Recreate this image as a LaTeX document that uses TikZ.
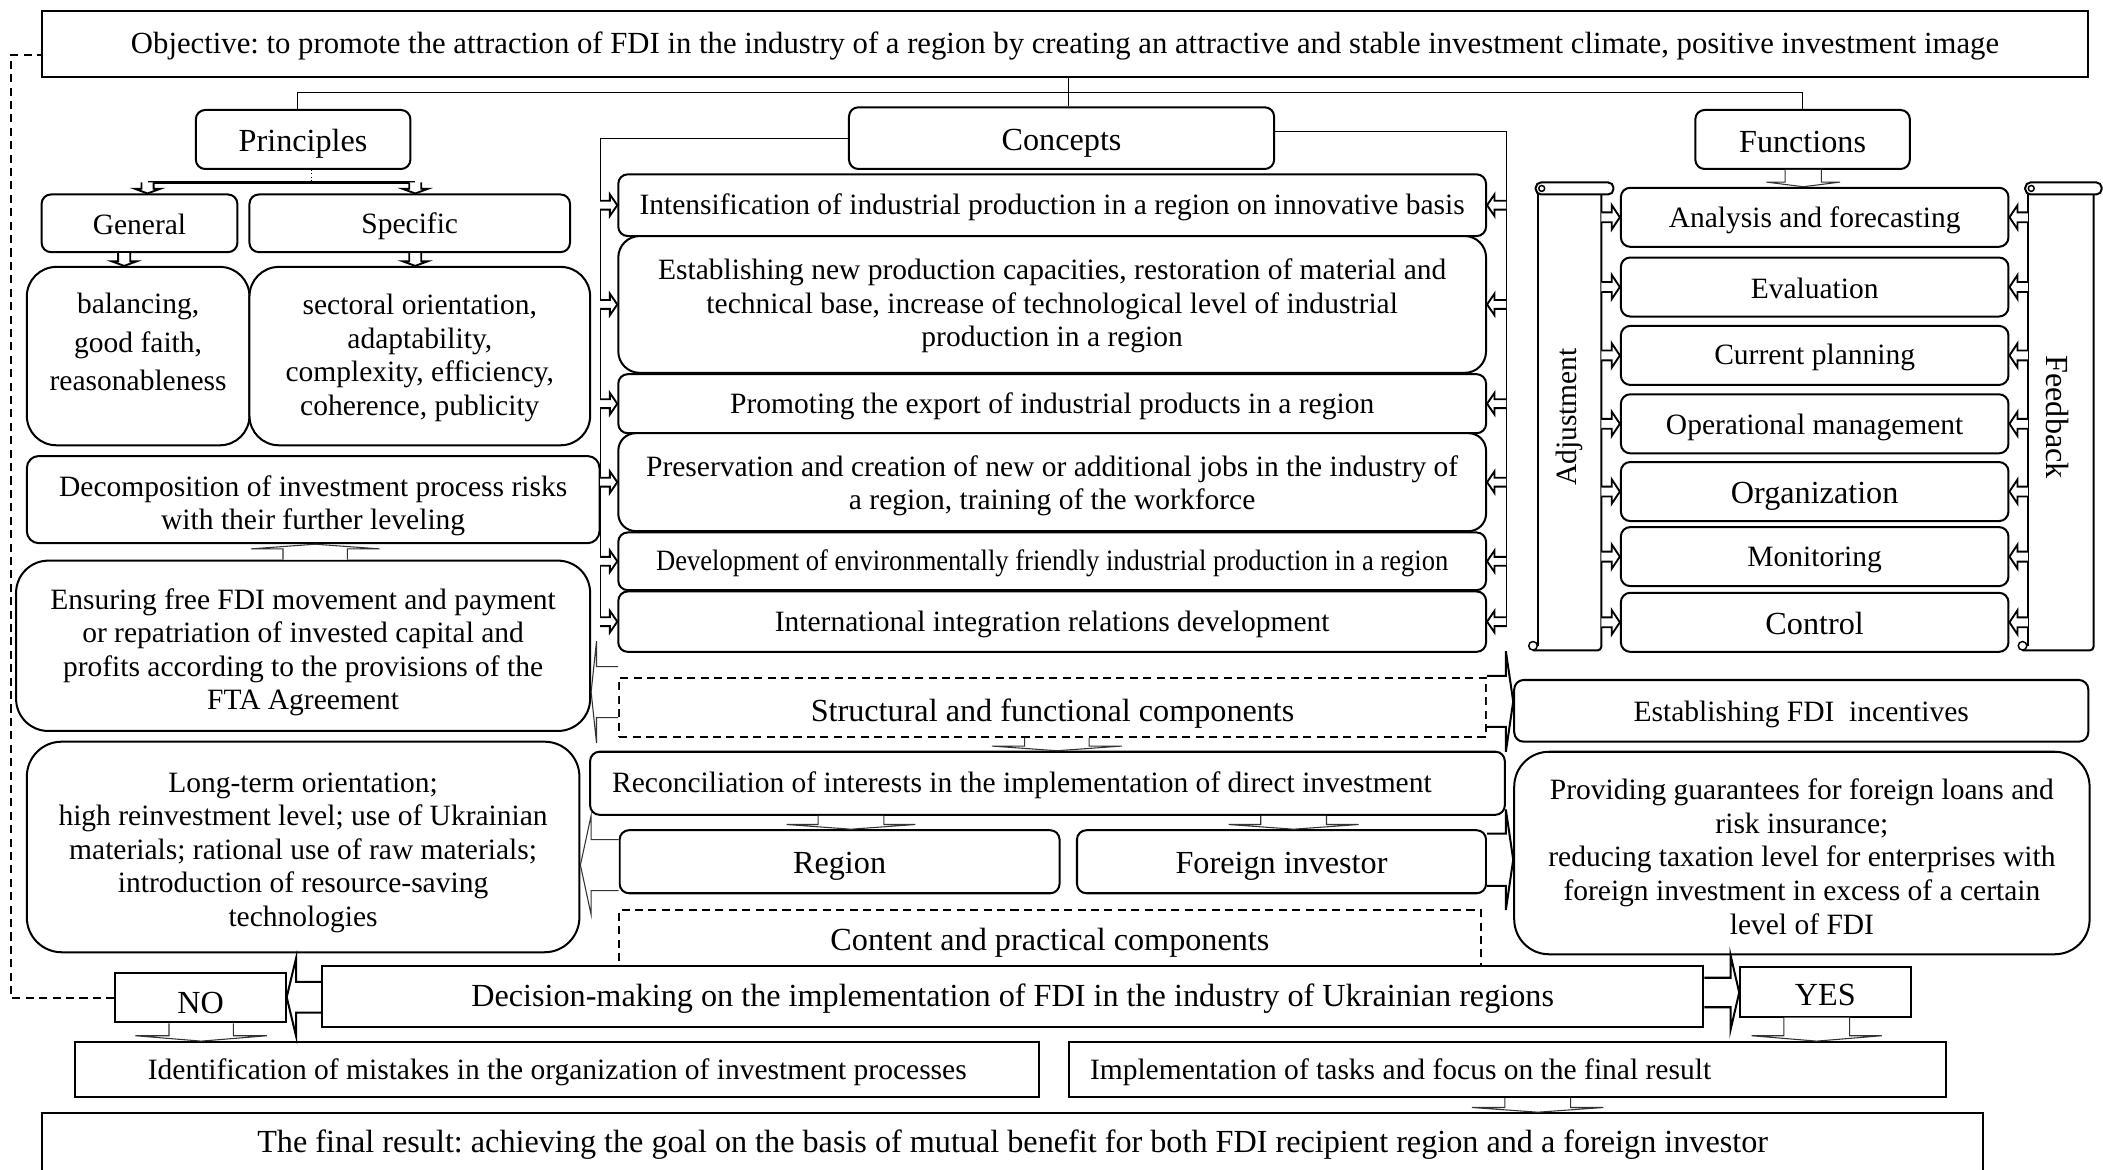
\documentclass[tikz,border=0pt]{standalone}
\usepackage{fontspec}
\usepackage{graphicx}
\setmainfont{Liberation Serif}
\usetikzlibrary{calc}
\newcommand{\fs}{\fontsize{22}{25}\selectfont}
\newcommand{\fl}{\fontsize{24}{27}\selectfont}
\newcommand{\dn}[1]{\rule{0pt}{#1pt}}
% block arrow: #1 style, #2 tail, #3 tip, #4 stem half width, #5 head half width, #6 head length
\newcommand{\barrow}[6]{%
  \coordinate (ba-T) at (#2);
  \coordinate (ba-P) at (#3);
  \coordinate (ba-B) at ($(ba-P)!#6!(ba-T)$);
  \draw[#1] ($(ba-T)!#4!90:(ba-P)$) -- ($(ba-B)!#4!90:(ba-P)$) -- ($(ba-B)!#5!90:(ba-P)$) -- (ba-P) -- ($(ba-B)!#5!-90:(ba-P)$) -- ($(ba-B)!#4!-90:(ba-P)$) -- ($(ba-T)!#4!-90:(ba-P)$);
}
\begin{document}
\frenchspacing
\begin{tikzpicture}[x=1pt,y=-1pt,
  box/.style={draw, line width=1.5pt, rounded corners=7pt, align=center, inner sep=0pt, fill=white, font=\fs},
  rbox/.style={draw, line width=1.5pt, align=center, inner sep=0pt, fill=white, font=\fs},
  dbox/.style={draw, line width=1.3pt, dash pattern=on 6pt off 4pt, align=center, inner sep=0pt, font=\fl},
  conn/.style={line width=0.8pt},
  thinarrow/.style={draw=black!80, line width=0.8pt, fill=white},
  smallarrow/.style={draw, line width=1.4pt, fill=white},
  bigarrow/.style={draw, line width=1.5pt, fill=white},
  fbline/.style={line width=1.2pt, dash pattern=on 6pt off 4pt},
  scroll/.style={line width=1.5pt},
  txt/.style={inner sep=0pt, font=\fs},
]
\useasboundingbox (0,0) rectangle (1568,872.3);

% ---------- top ----------
\node[rbox, font=\fontsize{22.9}{26}\selectfont, minimum width=1526pt, minimum height=49pt] (obj) at (794,33)
  {\dn{18}Objective: to promote the attraction of FDI in the industry of a region by creating an attractive and stable investment climate, positive investment image};
\node[box, font=\fl, minimum width=160pt, minimum height=44pt] (prin) at (226,104) {\dn{23}Principles};
\node[box, font=\fl, minimum width=317pt, minimum height=46pt] (conc) at (791.5,103) {\dn{24}Concepts};
\node[box, font=\fl, minimum width=160pt, minimum height=44pt] (func) at (1344,104) {\dn{20}Functions};

\coordinate (hub) at (797,69);
\draw[conn] (hub |- obj.south) -- (hub |- conc.north);
\draw[conn] ($(prin.north)+(-4,0)$) |- (hub) -| (func.north);

% ---------- principles column ----------
\node[box, minimum width=146pt, minimum height=43pt] (gen) at (104,166.5) {\dn{17}General};
\node[box, minimum width=239pt, minimum height=43pt] (spec) at (305.5,166.5) {\dn{20}Specific};
\node[box, rounded corners=22pt, minimum width=166pt, minimum height=133pt] (bal) at (103,265.5) {};
\node[font=\fontsize{22}{29}\selectfont, align=center, inner sep=0pt] (balt) at (103,255) {balancing,\\good faith,\\reasonableness};
\node[box, rounded corners=22pt, minimum width=254pt, minimum height=133pt] (sec) at (313,265.5)
  {\dn{18}sectoral orientation,\\adaptability,\\complexity, efficiency,\\coherence, publicity};
\node[box, rounded corners=9pt, minimum width=427pt, minimum height=65pt] (decomp) at (233.5,372.5)
  {\dn{25}Decomposition of investment process risks\\with their further leveling};
\node[box, rounded corners=24pt, minimum width=428pt, minimum height=127pt] (ens) at (226,481.5)
  {\dn{25}Ensuring free FDI movement and payment\\or repatriation of invested capital and\\profits according to the provisions of the\\FTA Agreement};
\node[box, rounded corners=26pt, minimum width=412pt, minimum height=157pt] (long) at (226,631.5)
  {\dn{23}Long-term orientation;\\high reinvestment level; use of Ukrainian\\materials; rational use of raw materials;\\introduction of resource-saving\\technologies};

\coordinate (barL) at (110,136);
\coordinate (barR) at (309.6,136);
\coordinate (pd) at ($(prin.south)+(6,0)$);
\draw[dotted, line width=0.6pt] (pd) -- (pd |- barL);
\draw[line width=1.8pt] (barL) -- (barR);
\barrow{smallarrow}{barL}{barL |- gen.north}{4.5pt}{9.5pt}{3.5pt}
\barrow{smallarrow}{barR}{barR |- spec.north}{4.5pt}{9.5pt}{3.5pt}
\coordinate (ga) at (92.6,0);
\coordinate (sa) at (309.6,0);
\barrow{smallarrow}{ga |- gen.south}{ga |- bal.north}{4.5pt}{9.5pt}{3.5pt}
\barrow{smallarrow}{sa |- spec.south}{sa |- sec.north}{4.5pt}{9.5pt}{3.5pt}
\coordinate (ea) at (235,0);
\barrow{thinarrow}{ea |- ens.north}{ea |- decomp.south}{24pt}{48pt}{3.5pt}

% ---------- concepts column ----------
\node[box, minimum width=647pt, minimum height=46pt] (c1) at (784.5,153)
  {\dn{19}Intensification of industrial production in a region on innovative basis};
\node[box, rounded corners=16pt, minimum width=647pt, minimum height=102pt] (c2) at (784.5,227)
  {\dn{18}Establishing new production capacities, restoration of material and\\technical base, increase of technological level of industrial\\production in a region};
\node[box, minimum width=647pt, minimum height=44pt] (c3) at (784.5,301)
  {\dn{20}Promoting the export of industrial products in a region};
\node[box, rounded corners=13pt, minimum width=647pt, minimum height=73pt] (c4) at (784.5,359.5)
  {\dn{21}Preservation and creation of new or additional jobs in the industry of\\a region, training of the workforce};
\node[box, minimum width=647pt, minimum height=43pt] (c5) at (784.5,418.5)
  {\dn{19}\scalebox{0.9}[1]{Development of environmentally friendly industrial production in a region}};
\node[box, minimum width=647pt, minimum height=45pt] (c6) at (784.5,463.5)
  {\dn{19}International integration relations development};

\coordinate (busL) at (447.5,0);
\coordinate (busR) at (1123,0);
\draw[conn] (conc.west) -| ($(busL |- c6.west)+(0,4)$);
\draw[conn] ($(conc.east)+(0,-5)$) -| ($(busR |- c6.east)+(0,4)$);
\foreach \c in {c1,c2,c3,c4,c5,c6}{
  \barrow{smallarrow}{busL |- \c.west}{\c.west}{3.3pt}{8pt}{5.5pt}
  \barrow{smallarrow}{busR |- \c.east}{\c.east}{3.3pt}{8pt}{5.5pt}
}

% ---------- functions column ----------
\node[box, minimum width=289pt, minimum height=44pt] (f1) at (1353,162) {\dn{20}Analysis and forecasting};
\node[box, minimum width=289pt, minimum height=44pt] (f2) at (1353,214) {\dn{17}Evaluation};
\node[box, minimum width=289pt, minimum height=44pt] (f3) at (1353,265) {\dn{19}Current planning};
\node[box, minimum width=289pt, minimum height=44pt] (f4) at (1353,316) {\dn{20}Operational management};
\node[box, font=\fl, minimum width=289pt, minimum height=44pt] (f5) at (1353,366.5) {\dn{23}Organization};
\node[box, minimum width=289pt, minimum height=44pt] (f6) at (1353,415) {\dn{19}Monitoring};
\node[box, font=\fl, minimum width=289pt, minimum height=44pt] (f7) at (1353,464) {\dn{18}Control};

\coordinate (fa) at (1344.5,0);
\barrow{thinarrow}{fa |- func.south}{fa |- f1.north}{13.5pt}{27.5pt}{3.5pt}

% scrolls
\draw[scroll] (1147,145) -- (1147,482);
\draw[scroll, rounded corners=3pt] (1194,145) -- (1194,485) -- (1143,485);
\draw[line width=1.1pt] (1143,481.5) circle (3.2pt);
\draw[scroll, rounded corners=4pt, fill=white] (1145,136) rectangle (1203,145);
\draw[line width=1.1pt] (1149.5,140.5) circle (2.2pt);
\node[font=\fs, rotate=90, inner sep=0pt] (adjt) at (1170,311) {Adjustment};

\draw[scroll] (1512,145) -- (1512,482);
\draw[scroll, rounded corners=3pt] (1561,145) -- (1561,485) -- (1508,485);
\draw[line width=1.1pt] (1508,481.5) circle (3.2pt);
\draw[scroll, rounded corners=4pt, fill=white] (1510,136) rectangle (1567,145);
\draw[line width=1.1pt] (1514.5,140.5) circle (2.2pt);
\node[font=\fl, rotate=-90, inner sep=0pt] (fbt) at (1534,311) {Feedback};

\coordinate (adjR) at (1194,0);
\coordinate (fbL) at (1512,0);
\foreach \f in {f1,f2,f3,f4,f5,f6,f7}{
  \barrow{smallarrow}{adjR |- \f.west}{\f.west}{3.7pt}{9pt}{6pt}
  \barrow{smallarrow}{fbL |- \f.east}{\f.east}{3.7pt}{9pt}{6pt}
}

% ---------- middle ----------
\node[dbox, minimum width=646.4pt, minimum height=44pt] (struct) at (784.8,527.6) {\dn{26}Structural and functional components};
\node[box, minimum width=428pt, minimum height=46pt] (estab) at (1343,530) {\dn{20}Establishing FDI~ incentives};
\node[box, rounded corners=26pt, minimum width=429pt, minimum height=151pt] (prov) at (1343.5,636)
  {\dn{21}Providing guarantees for foreign loans and\\risk insurance;\\reducing taxation level for enterprises with\\foreign investment in excess of a certain\\level of FDI};
\node[box, minimum width=682pt, minimum height=47pt] (recon) at (781,584) {};
\node[txt, anchor=west] (recont) at ($(recon.west)+(17,0)$)
  {\dn{19}Reconciliation of interests in the implementation of direct investment};
\node[box, font=\fl, minimum width=328pt, minimum height=47pt] (region) at (626,642.5) {\dn{22}Region};
\node[box, font=\fl, minimum width=305pt, minimum height=47pt] (foreign) at (955.5,642.5) {\dn{22}Foreign investor};
\node[dbox, minimum width=642.4pt, minimum height=43pt] (content) at (782.8,700) {\dn{22}Content and practical components};

\coordinate (sra) at (788,0);
\barrow{thinarrow}{sra |- struct.south}{sra |- recon.north}{24pt}{48.5pt}{3.5pt}
\coordinate (rra) at (634.5,0);
\coordinate (rfa) at (964.5,0);
\barrow{thinarrow}{rra |- recon.south}{rra |- region.north}{24.5pt}{48pt}{3.5pt}
\barrow{thinarrow}{rfa |- recon.south}{rfa |- foreign.north}{24.5pt}{48.5pt}{3.5pt}
\coordinate (y9) at (0,516);
\barrow{thinarrow}{struct.west |- y9}{ens.east |- y9}{19pt}{38pt}{4pt}
\coordinate (y10) at (0,645);
\barrow{thinarrow}{region.west |- y10}{long.east |- y10}{19pt}{37pt}{8pt}
\coordinate (y3) at (0,523);
\barrow{bigarrow}{struct.east |- y3}{estab.west |- y3}{19pt}{37.5pt}{5.5pt}
\coordinate (y4) at (0,641);
\barrow{bigarrow}{foreign.east |- y4}{prov.west |- y4}{19.5pt}{37.5pt}{5.5pt}

% ---------- bottom ----------
\node[rbox, font=\fl, minimum width=1030pt, minimum height=45.6pt] (decis) at (755,742.8)
  {\dn{20}Decision-making on the implementation of FDI in the industry of Ukrainian regions};
\node[rbox, font=\fl, minimum width=127pt, minimum height=36.5pt] (no) at (149.5,744) {\raisebox{-4pt}[\height][\depth]{NO}};
\node[rbox, font=\fl, minimum width=127pt, minimum height=37pt] (yes) at (1361,739.5) {\raisebox{-2pt}[\height][\depth]{YES}};
\node[rbox, minimum width=719pt, minimum height=41pt] (ident) at (415.5,797.5)
  {\dn{19}Identification of mistakes in the organization of investment processes};
\node[rbox, minimum width=654.5pt, minimum height=41pt] (impl) at (1124,797.5) {};
\node[txt, anchor=west] (implt) at ($(impl.west)+(16.5,0)$)
  {\dn{19}Implementation of tasks and focus on the final result};
\node[rbox, font=\fl, minimum width=1447pt, minimum height=46pt] (final) at (755,853)
  {\dn{18}The final result: achieving the goal on the basis of mutual benefit for both FDI recipient region and a foreign investor};

\coordinate (yb1) at (0,743.5);
\barrow{bigarrow}{decis.west |- yb1}{no.east |- yb1}{11.5pt}{29pt}{7pt}
\coordinate (yb2) at (0,740);
\barrow{bigarrow}{decis.east |- yb2}{yes.west |- yb2}{11pt}{28pt}{6.5pt}
\coordinate (na) at (150,0);
\barrow{thinarrow}{na |- no.south}{na |- ident.north}{24pt}{49pt}{4pt}
\coordinate (ya) at (1354.5,0);
\barrow{thinarrow}{ya |- yes.south}{ya |- impl.north}{24.5pt}{48.5pt}{4pt}
\coordinate (ia) at (1146.5,0);
\barrow{thinarrow}{ia |- impl.south}{ia |- final.north}{24.5pt}{49pt}{3.5pt}

% feedback dashed loop
\coordinate (lp) at (8,41);
\draw[fbline] (no.west) -| (lp) -- (obj.west |- lp);
\end{tikzpicture}
\end{document}
